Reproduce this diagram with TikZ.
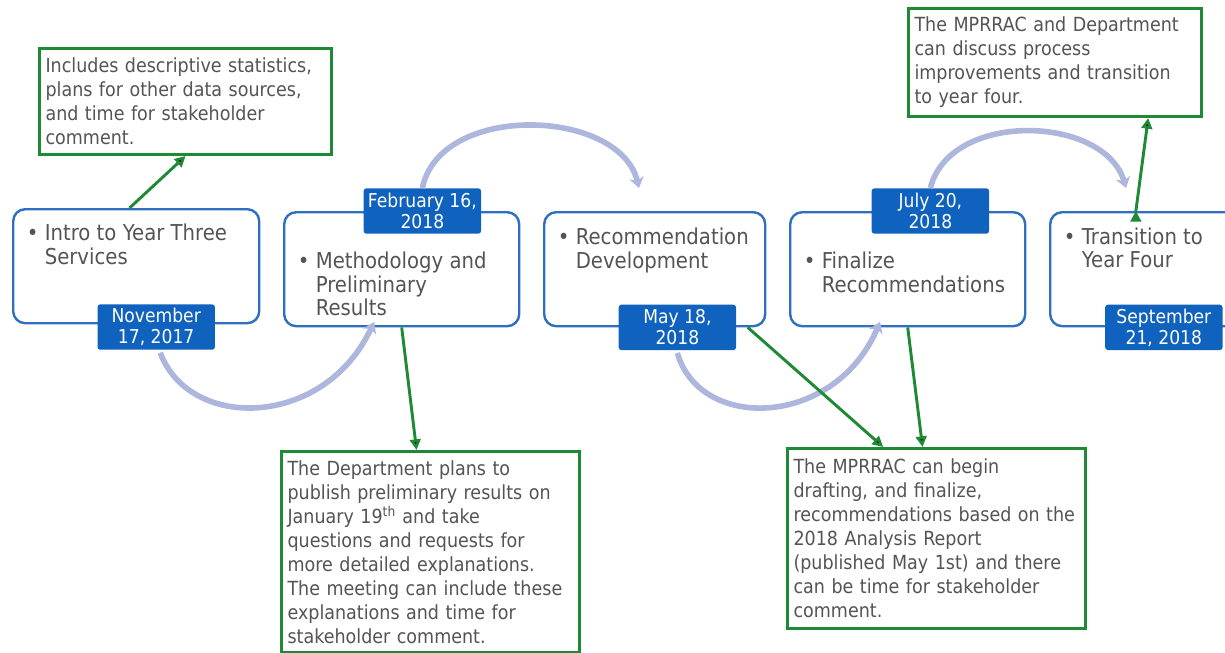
\documentclass[tikz,border=0pt]{standalone}
\usepackage{fontspec}
\setmainfont{DejaVu Sans}[FakeStretch=0.9]
\usepackage{tikz}
\usetikzlibrary{arrows.meta,positioning}

\definecolor{stageblue}{HTML}{2E6FBF}
\definecolor{tagblue}{HTML}{0F62BE}
\definecolor{notegreen}{HTML}{1E8A35}
\definecolor{arclav}{HTML}{ADB7DE}
\definecolor{textgray}{HTML}{545454}

\newcommand{\stagefont}{\fontsize{16.4}{17.25}\selectfont}
\newcommand{\notefont}{\fontsize{14.6}{18}\selectfont}
\newcommand{\tagfont}{\fontsize{14.3}{15.75}\selectfont}

\begin{document}
\begin{tikzpicture}[x=0.75pt,y=-0.75pt,
    stage/.style={draw=stageblue,line width=1.8pt,rounded corners=9pt,fill=white,minimum height=85.5pt,anchor=north west,inner sep=0pt},
    stagetext/.style={text=textgray,font=\stagefont,inner sep=0pt,anchor=north west},
    datetag/.style={fill=tagblue,text=white,font=\tagfont,rounded corners=2pt,minimum width=88pt,minimum height=34pt,align=center,inner sep=1pt},
    note/.style={draw=notegreen,line width=2.3pt,text=textgray,font=\notefont,align=left,anchor=north west,inner xsep=4.5pt,inner ysep=3pt},
    link/.style={-{Triangle[width=8pt,length=8pt]},draw=notegreen,line width=2.2pt},
    flow/.style={-{Stealth[width=11pt,length=8pt]},draw=arclav,line width=4.2pt}]
    \useasboundingbox (0,0) rectangle (1225,653);

        	\node[stage, minimum width=184.5pt] (s1) at (12,208)  {};
  			\node[stage, minimum width=176.25pt] (s2) at (283,211) {};
            \node[stage, minimum width=165.75pt] (s3) at (543,211) {};
            \node[stage, minimum width=176.25pt] (s4) at (789,211) {};
            \node[stage, minimum width=142.5pt] (s5) at (1049,211) {};

            \node[stagetext, below right=12pt and 11pt of s1.north west] (t1)
                 {\textbullet~\begin{tabular}[t]{@{}l@{}}Intro to Year Three\\Services\end{tabular}};
            \node[stagetext, below right=30.5pt and 11pt of s2.north west] (t2)
                 {\textbullet~\begin{tabular}[t]{@{}l@{}}Methodology and\\Preliminary\\Results\end{tabular}};
            \node[stagetext, below right=12.5pt and 11pt of s3.north west] (t3)
                 {\textbullet~\begin{tabular}[t]{@{}l@{}}Recommendation\\Development\end{tabular}};
            \node[stagetext, below right=30.5pt and 11pt of s4.north west] (t4)
                 {\textbullet~\begin{tabular}[t]{@{}l@{}}Finalize\\Recommendations\end{tabular}};
            \node[stagetext, below right=12.5pt and 11pt of s5.north west] (t5)
                 {\textbullet~\begin{tabular}[t]{@{}l@{}}Transition to\\Year Four\end{tabular}};

            \node[datetag, xshift=15pt] (d1) at ([yshift=-2pt]s1.south) {November\\17, 2017};
            \node[datetag, xshift=15.5pt] (d2) at (s2.north) {February 16,\\2018};
            \node[datetag, xshift=17pt] (d3) at (s3.south) {May 18,\\2018};
            \node[datetag, xshift=17pt] (d4) at (s4.north) {July 20,\\2018};
            \node[datetag, xshift=14pt] (d5) at (s5.south) {September\\21, 2018};

            % arcs between the stages
            \coordinate (a1) at (374,322);
            \coordinate (a2) at (639,188);
            \coordinate (a3) at (880,322);
            \coordinate (a4) at (1126,188);
            \draw[flow] ([xshift=3pt,yshift=-2pt]d1.south) .. controls (190,432) and (325,428) .. (a1);
            \draw[flow] (d2.north) .. controls (440,102) and (620,108) .. (a2);
            \draw[flow] ([yshift=-2pt]d3.south) .. controls (700,432) and (835,428) .. (a3);
            \draw[flow] (d4.north) .. controls (950,110) and (1105,115) .. (a4);

            \node[note, text width=210pt, minimum height=79.5pt] (n1) at (38,47)
                 {Includes descriptive statistics,\\plans for other data sources,\\and time for stakeholder\\comment.};
            \node[note, text width=210.5pt, minimum height=81pt] (n2) at (907,7)
                 {The MPRRAC and Department\\can discuss process\\improvements and transition\\to year four.};
            \node[note, text width=214.5pt, minimum height=150.75pt] (n3) at (280,450)
                 {The Department plans to\\publish preliminary results on\\January 19\textsuperscript{th} and take\\questions and requests for\\more detailed explanations.\\The meeting can include these\\explanations and time for\\stakeholder comment.};
            \node[note, text width=214.5pt, minimum height=135pt] (n4) at (786,447)
                 {The MPRRAC can begin\\drafting, and finalize,\\recommendations based on the\\2018 Analysis Report\\(published May 1st) and there\\can be time for stakeholder\\comment.};

  			\path[link]
                     ([xshift=-5pt]s1.north) edge (n1.south)
                     (s2.south) edge ([xshift=-10.5pt]n3.north)
                     ([xshift=-14pt]s3.south east) edge ([xshift=-40pt]n4.north)
                     (s4.south) edge ([xshift=-10.5pt]n4.north)
                     ([xshift=-7pt]s5.north) edge ([xshift=70pt]n2.south);
\end{tikzpicture}
\end{document}
